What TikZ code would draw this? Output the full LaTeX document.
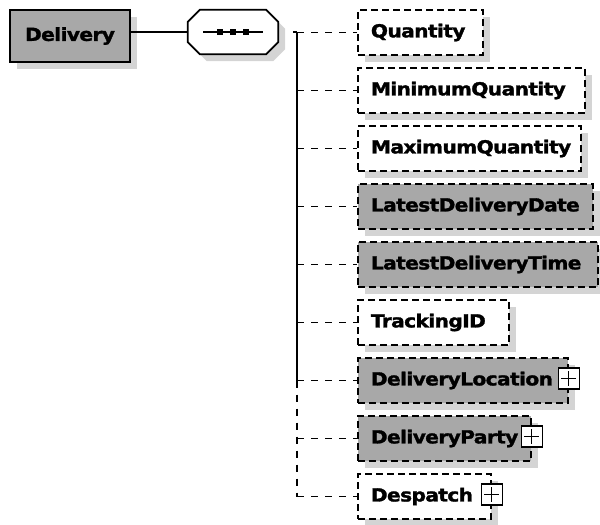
\documentclass[tikz,border=0pt]{standalone}
\usepackage{fontspec}
\setmainfont{DejaVu Sans}
\newfontfamily\boxfont{DejaVu Sans}[BoldFeatures={FakeBold=1.5,LetterSpace=-3}]
\usetikzlibrary{calc,shadows}
\definecolor{shadowgray}{RGB}{212,212,212}
\definecolor{boxgray}{RGB}{168,168,168}
\newcommand{\lbltext}[1]{\scalebox{1.12}[1]{\boxfont\bfseries\fontsize{18}{18}\selectfont #1}}
\newcommand{\elabel}[2]{\makebox[#1][l]{\hspace*{13pt}\lbltext{#2}}}
\tikzset{
  shad/.style={drop shadow={shadow xshift=7pt, shadow yshift=-7pt, fill=shadowgray, draw=none, opacity=1}},
  elem/.style={draw, line width=1.8pt, dash pattern=on 7pt off 4pt, fill=white, shad,
    anchor=west, inner sep=0pt, minimum height=45pt},
  grayelem/.style={elem, fill=boxgray},
  conn/.style={line width=1.8pt, dash pattern=on 7pt off 7pt},
  trunkline/.style={line width=1.8pt},
  plusbox/.style={draw, line width=1.2pt, fill=white, minimum size=21pt, inner sep=0pt,
    path picture={\draw[line width=1.2pt] ($(path picture bounding box.west)+(3pt,0)$) -- ($(path picture bounding box.east)+(-3pt,0)$);
                  \draw[line width=1.2pt] ($(path picture bounding box.north)+(0,-3pt)$) -- ($(path picture bounding box.south)+(0,3pt)$);}}
}
\begin{document}
\begin{tikzpicture}[x=1pt,y=-1pt]
\useasboundingbox (0,0) rectangle (600,525);
% root
\node[draw, line width=2pt, fill=boxgray, shad, minimum width=120pt, minimum height=52pt, inner sep=0pt]
  (Delivery) at (70,36) {\lbltext{Delivery}};
% sequence compositor
\node[minimum width=90pt, minimum height=44pt, inner sep=0pt] (seq) at (233,32) {};
\draw[line width=1.8pt, fill=white, shad]
  ($(seq.north west)+(12,0)$) -- ($(seq.north east)+(-12,0)$) -- ($(seq.north east)+(0,12)$)
  -- ($(seq.south east)+(0,-12)$) -- ($(seq.south east)+(-12,0)$) -- ($(seq.south west)+(12,0)$)
  -- ($(seq.south west)+(0,-12)$) -- ($(seq.north west)+(0,12)$) -- cycle;
\draw[line width=1.8pt] ($(seq.center)+(-30,0)$) -- ($(seq.center)+(30,0)$);
\foreach \dx in {-13,0,13}
  \fill ($(seq.center)+(\dx,0)+(-3,-3)$) rectangle ($(seq.center)+(\dx,0)+(3,3)$);
\draw[line width=1.8pt] (Delivery.east |- seq.west) -- (seq.west);
% children
\node[elem] (Quantity) at (357,32.5) {\elabel{125pt}{Quantity}};
\node[elem] (MinimumQuantity) at (357,90.5) {\elabel{227pt}{MinimumQuantity}};
\node[elem] (MaximumQuantity) at (357,148.5) {\elabel{223pt}{MaximumQuantity}};
\node[grayelem] (LatestDeliveryDate) at (357,206.5) {\elabel{235pt}{LatestDeliveryDate}};
\node[grayelem] (LatestDeliveryTime) at (357,264.5) {\elabel{240pt}{LatestDeliveryTime}};
\node[elem] (TrackingID) at (357,322.5) {\elabel{151pt}{TrackingID}};
\node[grayelem] (DeliveryLocation) at (357,380.5) {\elabel{210pt}{DeliveryLocation}};
\node[grayelem] (DeliveryParty) at (357,438.5) {\elabel{173pt}{DeliveryParty}};
\node[elem] (Despatch) at (357,496.5) {\elabel{133pt}{Despatch}};
\node[plusbox] (plusLoc) at ($(DeliveryLocation.east)+(0,-2)$) {};
\node[plusbox] (plusParty) at ($(DeliveryParty.east)+(0,-2)$) {};
\node[plusbox] (plusDesp) at ($(Despatch.east)+(0,-2)$) {};
% trunk and connectors
\coordinate (trunk) at (297,32);
\coordinate (seqout) at (293,32);
\draw[trunkline] (seqout) -- (trunk);
\draw[trunkline] (trunk) -- (trunk |- DeliveryLocation.west);
\draw[conn] (trunk |- DeliveryLocation.west) -- (trunk |- Despatch.west);
\foreach \n in {Quantity,MinimumQuantity,MaximumQuantity,LatestDeliveryDate,LatestDeliveryTime,TrackingID,DeliveryLocation,DeliveryParty,Despatch}
  \draw[conn] (trunk |- \n.west) -- (\n.west);
\end{tikzpicture}
\end{document}
